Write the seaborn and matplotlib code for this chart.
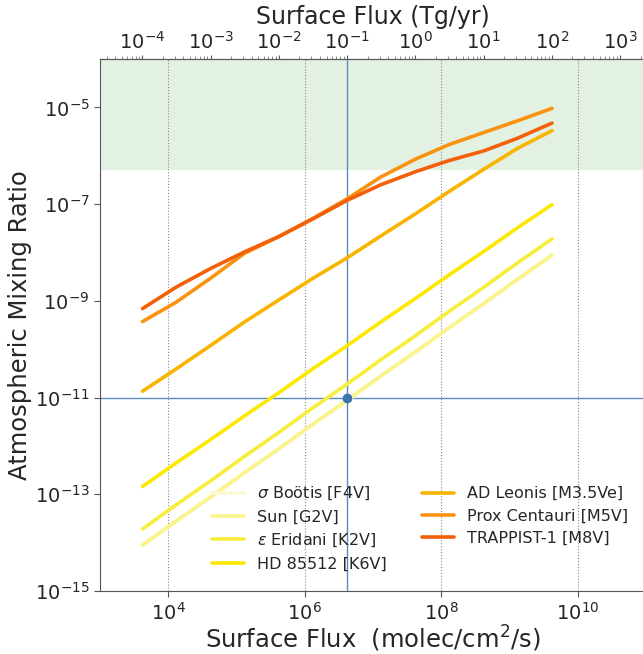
import numpy as np
import pandas as pd
import matplotlib
matplotlib.use("Agg")
import matplotlib.pyplot as plt
import matplotlib.ticker as mticker
import seaborn as sns

# ---- data ----
flux = [4.2e3, 1.3e4, 4.2e4, 1.3e5, 4.2e5, 1.3e6, 4.2e6, 1.3e7, 4.2e7, 1.3e8, 4.2e8, 1.3e9, 4.2e9]
stars = [r"$\sigma$ Boötis [F4V]", "Sun [G2V]", r"$\varepsilon$ Eridani [K2V]", "HD 85512 [K6V]",
         "AD Leonis [M3.5Ve]", "Prox Centauri [M5V]", "TRAPPIST-1 [M8V]"]
sigma_bootis = [8.5e-15, 2.7e-14, 8.5e-14, 2.7e-13, 8.5e-13, 2.7e-12, 8.5e-12, 2.7e-11, 8.5e-11, 2.7e-10, 8.5e-10, 2.7e-9, 8.5e-9]
sun = [8.9e-15, 2.8e-14, 8.9e-14, 2.8e-13, 8.9e-13, 2.8e-12, 8.9e-12, 2.8e-11, 8.9e-11, 2.8e-10, 8.9e-10, 2.8e-9, 8.9e-9]
eps_eridani = [1.91e-14, 6.03e-14, 1.91e-13, 6.03e-13, 1.91e-12, 6.03e-12, 1.91e-11, 6.03e-11, 1.91e-10, 6.03e-10, 1.91e-9, 6.03e-9, 1.91e-8]
hd85512 = [1.45e-13, 4.43e-13, 1.36e-12, 4.15e-12, 1.27e-11, 3.89e-11, 1.19e-10, 3.65e-10, 1.12e-9, 3.42e-9, 1.05e-8, 3.21e-8, 9.77e-8]
ad_leonis = [1.35e-11, 3.89e-11, 1.20e-10, 3.63e-10, 1.05e-9, 2.88e-9, 7.76e-9, 2.19e-8, 6.31e-8, 1.82e-7, 5.25e-7, 1.41e-6, 3.31e-6]
prox_cen = [3.72e-10, 9.33e-10, 2.95e-9, 9.55e-9, 2.14e-8, 5.01e-8, 1.29e-7, 3.63e-7, 8.51e-7, 1.70e-6, 3.02e-6, 5.25e-6, 9.55e-6]
trappist = [6.9e-10, 1.91e-9, 4.68e-9, 1.02e-8, 2.14e-8, 4.90e-8, 1.20e-7, 2.51e-7, 4.68e-7, 7.94e-7, 1.26e-6, 2.29e-6, 4.73e-6]
series = [sigma_bootis, sun, eps_eridani, hd85512, ad_leonis, prox_cen, trappist]
colors = ["#fcf9d6", "#f9f48c", "#f6ee3a", "#fde900", "#f9b400", "#f9930f", "#f4600a"]

tg_per_flux = 2.4e-8          # Tg/yr per molec/cm2/s
ref_flux = 4.17e6             # = 0.1 Tg/yr
ref_mix = 1e-11
shade_lo, shade_hi = 5e-7, 1e-4
x_ticks = [1e4, 1e6, 1e8, 1e10]
y_ticks = [1e-15, 1e-13, 1e-11, 1e-9, 1e-7, 1e-5]
top_ticks = [1e-4, 1e-3, 1e-2, 1e-1, 1e0, 1e1, 1e2, 1e3]

df = pd.DataFrame({
    "flux": np.tile(flux, len(stars)),
    "mix": np.concatenate(series),
    "star": np.repeat(stars, len(flux)),
})

sns.set_style("ticks")
plt.rcParams["font.family"] = ["DejaVu Sans"]

fig = plt.figure(figsize=(6.43, 6.54), dpi=100)
ax = fig.add_axes([100 / 643, 1 - 591 / 654, 546 / 643, (591 - 59) / 654])
ax.set_xscale("log")
ax.set_yscale("log")

ax.axhspan(shade_lo, shade_hi, color="green", alpha=0.11, lw=0, zorder=0)
sns.lineplot(data=df, x="flux", y="mix", hue="star", hue_order=stars,
             palette=dict(zip(stars, colors)), lw=2.6, ax=ax, legend=False, zorder=3)

ax.axvline(ref_flux, color="#5b8cc0", lw=1.0, zorder=2)
ax.axhline(ref_mix, color="#5b8cc0", lw=1.0, zorder=2)
ax.plot([ref_flux], [ref_mix], "o", color="#3e74ae", ms=6, zorder=4)

ax.set_xlim(1e3, 1e11)
ax.set_ylim(1e-15, 1e-4)
ax.set_xticks(x_ticks)
ax.set_yticks(y_ticks)
ax.xaxis.set_minor_locator(mticker.NullLocator())
ax.yaxis.set_minor_locator(mticker.NullLocator())
ax.tick_params(axis="both", labelsize=14, length=4, color="#555555")
ax.grid(axis="x", which="major", linestyle=":", color="#888888", lw=0.8)
for s in ax.spines.values():
    s.set_color("#555555")

ax.set_xlabel("Surface Flux  (molec/cm$^2$/s)", fontsize=17.5, labelpad=0)
ax.set_ylabel("Atmospheric Mixing Ratio", fontsize=17.5, labelpad=2)

sec = ax.secondary_xaxis("top", functions=(lambda x: x * tg_per_flux, lambda t: t / tg_per_flux))
sec.xaxis.set_major_locator(mticker.FixedLocator(top_ticks))
sec.xaxis.set_minor_locator(mticker.LogLocator(base=10, subs=np.arange(2, 10), numticks=30))
sec.tick_params(axis="x", which="major", labelsize=14, length=3, pad=1.5, color="#555555")
sec.tick_params(axis="x", which="minor", length=2, color="#777777")
sec.set_xlabel("Surface Flux (Tg/yr)", fontsize=17, labelpad=5)
sec.spines["top"].set_color("#555555")

handles = [plt.Line2D([], [], color=c, lw=2.6) for c in colors]
ax.legend(handles, stars, ncol=2, frameon=False, fontsize=11.5,
          loc="lower center", bbox_to_anchor=(0.586, 0.01),
          columnspacing=2.2, handlelength=2.0, labelspacing=0.45)

fig.savefig("out.png", dpi=100)
